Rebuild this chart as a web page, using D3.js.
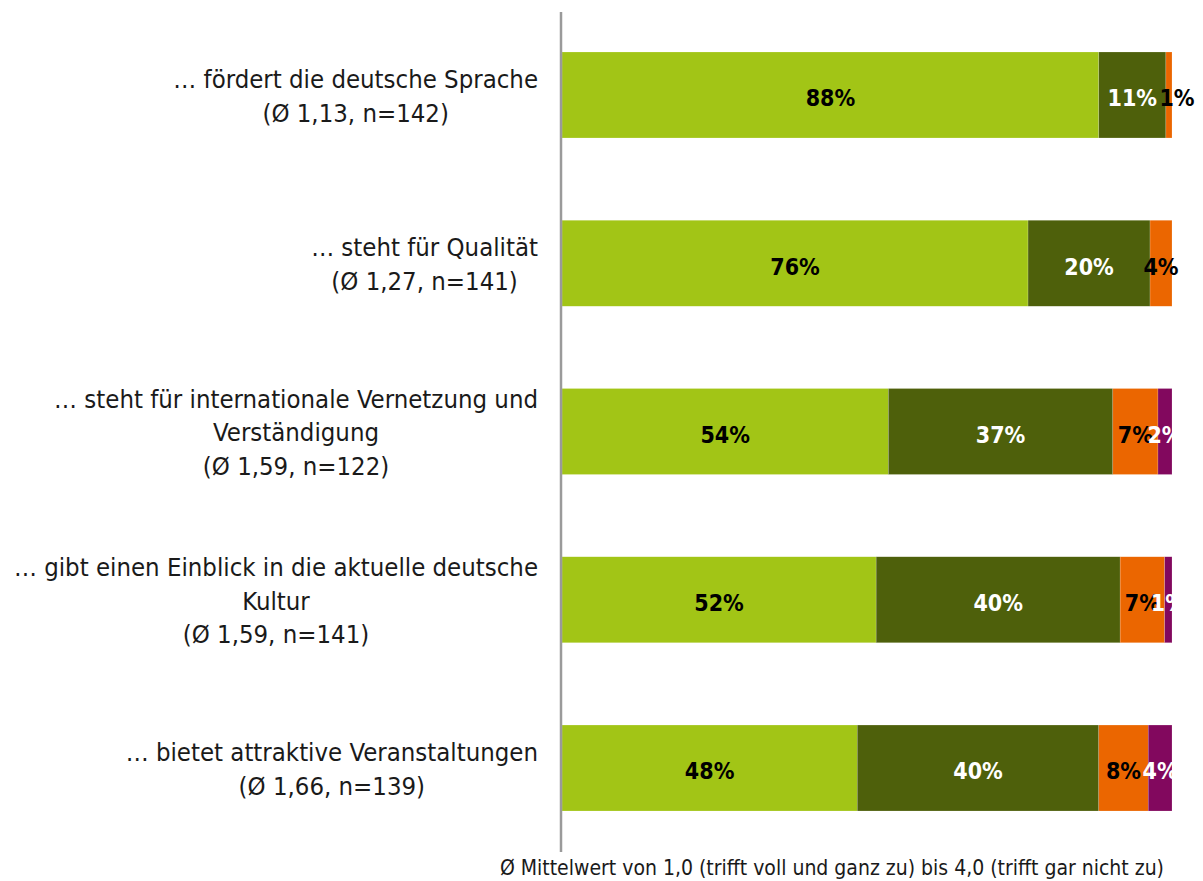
<!DOCTYPE html>
<html>
<head>
<meta charset="utf-8">
<script src="https://cdn.jsdelivr.net/npm/d3@7"></script>
<style>
  body { margin: 0; background: #fff; }
  svg { display: block; }
  text { font-family: "Liberation Sans Narrow", "DejaVu Sans Condensed", "Roboto", sans-serif; }
</style>
</head>
<body>
<div id="chart"></div>
<script>
// category text lines (already wrapped as in the original)
var categoryLines = [
    ["… fördert die deutsche Sprache"],
    ["… steht für Qualität"],
    ["… steht für internationale Vernetzung und", "Verständigung"],
    ["… gibt einen Einblick in die aktuelle deutsche", "Kultur"],
    ["… bietet attraktive Veranstaltungen"]
];
var means = ["1,13", "1,27", "1,59", "1,59", "1,66"];
var counts = [142, 141, 122, 141, 139];

// shares per answer level (trifft voll zu ... trifft gar nicht zu)
var level1 = [88.0, 76.4, 53.5, 51.5, 48.4];
var level2 = [11.0, 20.0, 36.8, 40.0, 39.6];
var level3 = [1.0, 3.6, 7.4, 7.3, 8.1];
var level4 = [0, 0, 2.3, 1.2, 3.9];

var levelColors = ["#a2c516", "#4e600b", "#eb6600", "#82085e"];
var labelColors = ["#000", "#fff", "#000", "#fff"];

var footnote = "Ø Mittelwert von 1,0 (trifft voll und ganz zu) bis 4,0 (trifft gar nicht zu)";

var width = 1203, height = 881;
var margin = { top: 12, right: 31, bottom: 29, left: 562 };

var svg = d3.select("#chart").append("svg")
    .attr("width", width)
    .attr("height", height);

var rows = categoryLines.map(function(lines, i) {
    return {
        idx: i,
        lines: lines.concat(["(Ø " + means[i] + ", n=" + counts[i] + ")"]),
        values: [level1[i], level2[i], level3[i], level4[i]]
    };
});

var x = d3.scaleLinear()
    .domain([0, 100])
    .range([margin.left, width - margin.right]);

var y = d3.scaleBand()
    .domain(d3.range(rows.length))
    .range([margin.top + 40, height - margin.bottom - 41])
    .paddingInner(0.489)
    .paddingOuter(0);

svg.append("defs").append("clipPath").attr("id", "plotClip")
    .append("rect")
    .attr("x", x(0))
    .attr("y", 0)
    .attr("width", x(100) - x(0))
    .attr("height", height);

// segments
var segs = [];
rows.forEach(function(r) {
    var acc = 0;
    r.values.forEach(function(v, k) {
        if (v > 0) {
            segs.push({ row: r.idx, level: k, x0: acc, x1: acc + v, value: v });
        }
        acc += v;
    });
});

var g = svg.append("g").attr("id", "barLayer");
g.selectAll("rect")
    .data(segs)
    .enter()
    .append("rect")
    .attr("x", function(d) { return x(d.x0); })
    .attr("y", function(d) { return y(d.row); })
    .attr("width", function(d) { return x(d.x1) - x(d.x0); })
    .attr("height", y.bandwidth())
    .attr("fill", function(d) { return levelColors[d.level]; })
    .attr("stroke", "rgba(255,255,255,0.35)")
    .attr("stroke-width", 0.5);

// value labels
var lg = svg.append("g").attr("id", "valueLayer");
lg.selectAll("text")
    .data(segs)
    .enter()
    .append("text")
    .attr("x", function(d) {
        var cx = (x(d.x0) + x(d.x1)) / 2;
        // tiny last segment label gets pushed to the right like the original
        if (d.level === 2 && d.x1 >= 100 && d.value < 2) cx += 8;
        return cx;
    })
    .attr("y", function(d) { return y(d.row) + y.bandwidth() / 2; })
    .attr("dy", "0.49em")
    .attr("text-anchor", "middle")
    .attr("clip-path", function(d) { return d.level === 3 ? "url(#plotClip)" : null; })
    .style("font-size", "23px")
    .style("font-weight", "bold")
    .attr("fill", function(d) { return labelColors[d.level]; })
    .text(function(d) { return Math.round(d.value) + "%"; });

// category labels, lines centered on each other, block right-aligned
var lineH = 33.5;
var cg = svg.append("g").attr("id", "categoryLayer");
rows.forEach(function(r) {
    var grp = cg.append("g");
    var n = r.lines.length;
    var cy = y(r.idx) + y.bandwidth() / 2 + 1;
    var texts = grp.selectAll("text")
        .data(r.lines)
        .enter()
        .append("text")
        .attr("x", 0)
        .attr("y", function(d, j) { return cy + (j - (n - 1) / 2) * lineH; })
        .attr("dy", "0.35em")
        .attr("text-anchor", "middle")
        .attr("fill", "#1a1a1a")
        .style("font-size", "25.5px")
        .text(function(d) { return d; });
    var maxW = 0;
    texts.each(function() { maxW = Math.max(maxW, this.getComputedTextLength()); });
    grp.attr("transform", "translate(" + (x(0) - 24 - maxW / 2) + ",0)");
});

// axis line
svg.append("line")
    .attr("x1", x(0) - 1)
    .attr("x2", x(0) - 1)
    .attr("y1", margin.top)
    .attr("y2", height - margin.bottom)
    .attr("stroke", "#9a9a9a")
    .attr("stroke-width", 2.5);

// footnote
svg.append("text")
    .attr("x", x(100) - 8)
    .attr("y", height - 6)
    .attr("text-anchor", "end")
    .attr("fill", "#1a1a1a")
    .style("font-size", "21px")
    .text(footnote);
</script>
</body>
</html>
